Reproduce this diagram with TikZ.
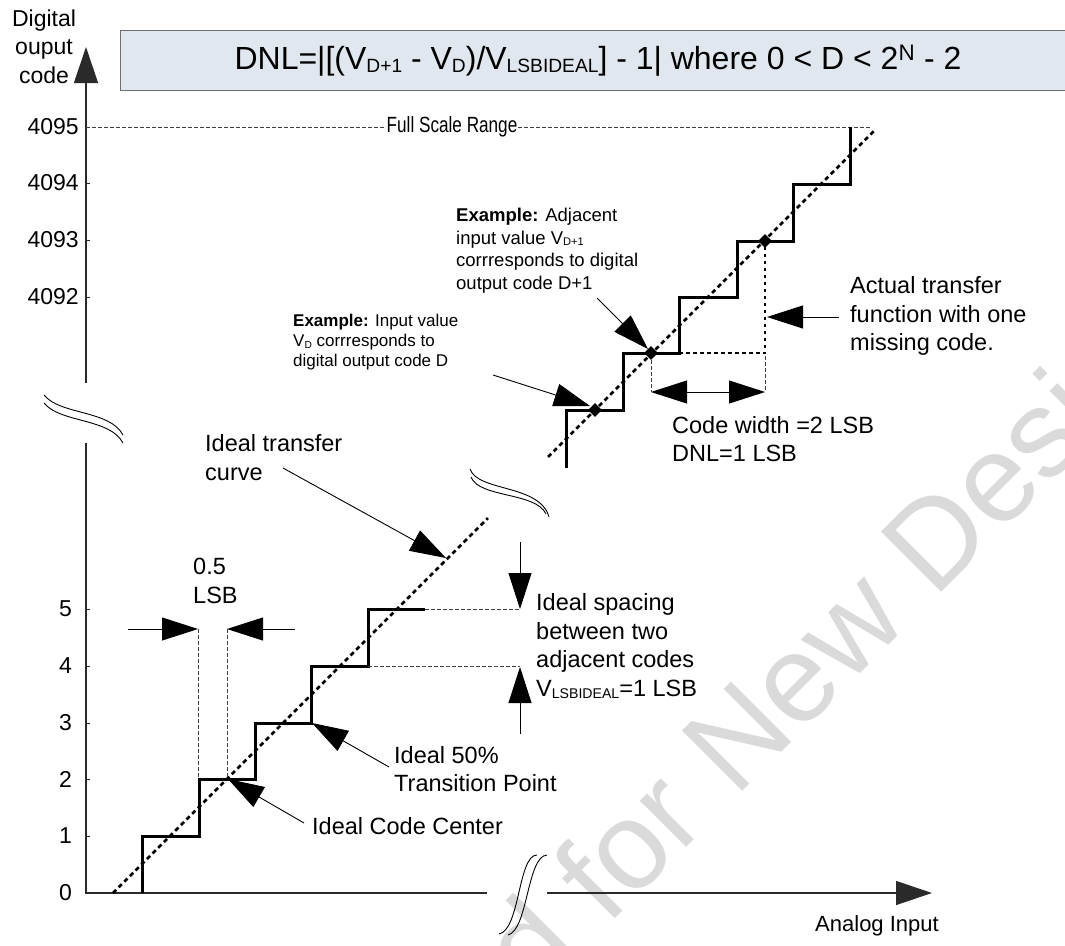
\documentclass[tikz,border=0pt]{standalone}
\usepackage{fontspec}
\setmainfont{Liberation Sans}
\usetikzlibrary{arrows.meta,shapes.geometric}
\definecolor{boxfill}{HTML}{E1E7EF}
\definecolor{boxline}{HTML}{6E6E6E}
\definecolor{wmgray}{HTML}{DADADA}
\definecolor{axisc}{HTML}{2A2A2A}
\newcommand\fsz[2]{\fontsize{#1}{#2}\selectfont}
\newcommand\lo[1]{\raisebox{-0.1em}{\scalebox{0.6}{#1}}}
\begin{document}
\begin{tikzpicture}[x=1pt,y=-1pt,
  lbl/.style={font=\fsz{23.5}{28.5}, inner sep=0pt, align=left, anchor=west},
  ticklbl/.style={font=\fsz{23}{28}, inner sep=0pt, anchor=east},
  ax/.style={line width=1.2pt, draw=axisc},
  axarrow/.style={ax, -{Triangle[length=36pt,width=24pt]}},
  stair/.style={line width=3pt, line join=miter},
  ideal/.style={line width=2.5pt, dash pattern=on 4.5pt off 3.5pt},
  miss/.style={line width=2.5pt, dash pattern=on 3.5pt off 3.5pt},
  guide/.style={line width=0.8pt, dash pattern=on 4pt off 2pt, draw=black!75},
  bigarrow/.style={line width=0.9pt, -{Triangle[length=36pt,width=23pt]}},
  dblarrow/.style={line width=0.9pt, {Triangle[length=36pt,width=23pt]}-{Triangle[length=36pt,width=23pt]}},
  brk/.style={line width=0.9pt},
  dia/.style={diamond, fill=black, inner sep=0pt, minimum width=14pt, minimum height=14pt},
  tick/.style={line width=0.9pt, draw=axisc},
  wmark/.style={font=\fsz{124}{132}, text=wmgray, rotate=45, inner sep=0pt}]

\useasboundingbox (0,0) rectangle (1065,945);

% watermark
\begin{scope}
\clip (0,0) rectangle (1065,945);
\node[wmark, anchor=base west] (wm1) at (735,799) {New Designs};
\node[wmark, anchor=base east] (wm2) at (710,824) {Not Recommended for};
\end{scope}

% formula box
\node[draw=boxline, line width=1pt, fill=boxfill, anchor=north west, minimum width=955pt, minimum height=60pt, inner sep=0pt, font=\fsz{32}{36}] (formula) at (120,30)
  {DNL=|[(V\lo{D+1} - V\lo{D})/V\lo{LSBIDEAL}] - 1| where 0 < D < 2\textsuperscript{N} - 2};

% axes
\coordinate (ytip) at (86,47);
\coordinate (ybrk1) at (86,383);
\coordinate (ybrk2) at (86,443);
\coordinate (orig) at (86,893);
\coordinate (xbrk1) at (487,893);
\coordinate (xbrk2) at (547,893);
\coordinate (xtip) at (932,893);
\draw[axarrow] (ybrk1) -- (ytip);
\draw[ax] (ybrk2) -- (orig) -- (xbrk1);
\draw[axarrow] (xbrk2) -- (xtip);

\node[font=\fsz{23}{28.5}, align=center, inner sep=0pt] (ylabel) at (44,46.5) {Digital\\ouput\\code};
\node[font=\fsz{22}{26}, inner sep=0pt] (xlabel) at (877,926) {Analog Input};

% break marks
\draw[brk] (44,395) .. controls (60,415) and (110,410) .. (123,435);
\draw[brk] (44,403) .. controls (60,423) and (110,418) .. (123,443);
\draw[brk] (470,469) .. controls (478,492) and (540,484) .. (549,517);
\draw[brk] (471,477) .. controls (479,498) and (536,492) .. (546,514);
\draw[brk] (499,934) .. controls (520,930) and (518,855) .. (537,855);
\draw[brk] (508,935) .. controls (528,930) and (527,856) .. (547,855);

% ticks and labels
\foreach \yy/\tt in {183/4094, 240/4093, 297/4092}{
  \draw[tick] (86,\yy) -- (90,\yy);
  \node[ticklbl] at (79,\yy) {\tt};
}
\node[ticklbl] (l4095) at (79,127) {4095};
\foreach \yy/\tt in {836/1, 779/2, 723/3, 666/4, 609/5}{
  \draw[tick] (86,\yy) -- (90,\yy);
  \node[ticklbl] at (72,\yy) {\tt};
}
\node[ticklbl] (l0) at (72,893) {0};

% full scale
\coordinate (fs1) at (86,127);
\coordinate (fs2) at (870,127);
\draw[guide] (fs1) -- (fs2);
\node[fill=white, inner sep=1pt, font=\fsz{22}{26}] (fsr) at (452,127) {\scalebox{0.78}[1]{Full Scale Range}};

% lower staircase
\draw[ideal] (113,893) -- (488,518);
\draw[stair] (142,893) -- (142,836) -- (199,836) -- (199,779) -- (255,779) -- (255,723) -- (311,723) -- (311,666) -- (368,666) -- (368,609) -- (425,609);
\draw[guide] (425,609) -- (520,609);
\draw[guide] (368,666) -- (520,666);

% 0.5 LSB
\coordinate (h1) at (198,629);
\coordinate (h2) at (227,629);
\draw[guide] (h1) -- (198,777);
\draw[guide] (h2) -- (227,777);
\coordinate (h1t) at (128,629);
\coordinate (h2t) at (295,629);
\draw[bigarrow] (h1t) -- (h1);
\draw[bigarrow] (h2t) -- (h2);
\node[lbl] (halflsb) at (193,581) {0.5\\LSB};

% ideal spacing
\coordinate (s1t) at (520,542);
\coordinate (s1) at (520,609);
\coordinate (s2t) at (520,734);
\coordinate (s2) at (520,667);
\draw[bigarrow] (s1t) -- (s1);
\draw[bigarrow] (s2t) -- (s2);
\node[lbl] (spacing) at (536,646) {Ideal spacing\\between two\\adjacent codes\\V\lo{LSBIDEAL}=1 LSB};

% ideal transfer curve label
\node[lbl] (itc) at (205,457.5) {Ideal transfer\\curve};
\coordinate (itcA) at (283,468);
\coordinate (itcB) at (446,558);
\draw[bigarrow] (itcA) -- (itcB);

% transition point
\node[lbl] (trans) at (394,769) {Ideal 50\%\\Transition Point};
\coordinate (trA) at (389,767);
\coordinate (trB) at (312,723);
\draw[bigarrow] (trA) -- (trB);

% code center
\node[lbl] (ccenter) at (312,826) {Ideal Code Center};
\coordinate (ccA) at (304,823);
\coordinate (ccB) at (228,779);
\draw[bigarrow] (ccA) -- (ccB);

% upper staircase
\draw[ideal] (548,457) -- (875,130);
\draw[stair] (566,468) -- (566,410) -- (623,410) -- (623,353) -- (679,353) -- (679,297) -- (737,297) -- (737,241) -- (793,241) -- (793,184) -- (850,184) -- (850,127);
\draw[miss] (679,353) -- (765,353) -- (765,241);
\node[dia] (d1) at (595,410) {};
\node[dia] (d2) at (651,353) {};
\node[dia] (d3) at (765,241) {};

% code width
\coordinate (cw1) at (651,392);
\coordinate (cw2) at (765,392);
\draw[guide] (651,360) -- (cw1);
\draw[guide] (765,356) -- (cw2);
\draw[dblarrow] (cw1) -- (cw2);
\node[lbl] (cwidth) at (672,439) {Code width =2 LSB\\DNL=1 LSB};

% actual transfer
\node[lbl] (actual) at (850,316) {Actual transfer\\function with one\\missing code.};
\coordinate (acA) at (839,317);
\coordinate (acB) at (767,317);
\draw[bigarrow] (acA) -- (acB);

% examples
\node[lbl, font=\fsz{17}{20}] (ex1) at (293,342) {\textbf{Example:} Input value\\V\lo{D} corrresponds to\\digital output code D};
\coordinate (ex1A) at (493,375);
\coordinate (ex1B) at (590,406);
\draw[bigarrow] (ex1A) -- (ex1B);
\node[lbl, font=\fsz{18.5}{22.5}] (ex2) at (456,250.5) {\textbf{Example:} Adjacent\\input value V\lo{D+1}\\corrresponds to digital\\output code D+1};
\coordinate (ex2A) at (597,298);
\coordinate (ex2B) at (648,349);
\draw[bigarrow] (ex2A) -- (ex2B);
\end{tikzpicture}
\end{document}
